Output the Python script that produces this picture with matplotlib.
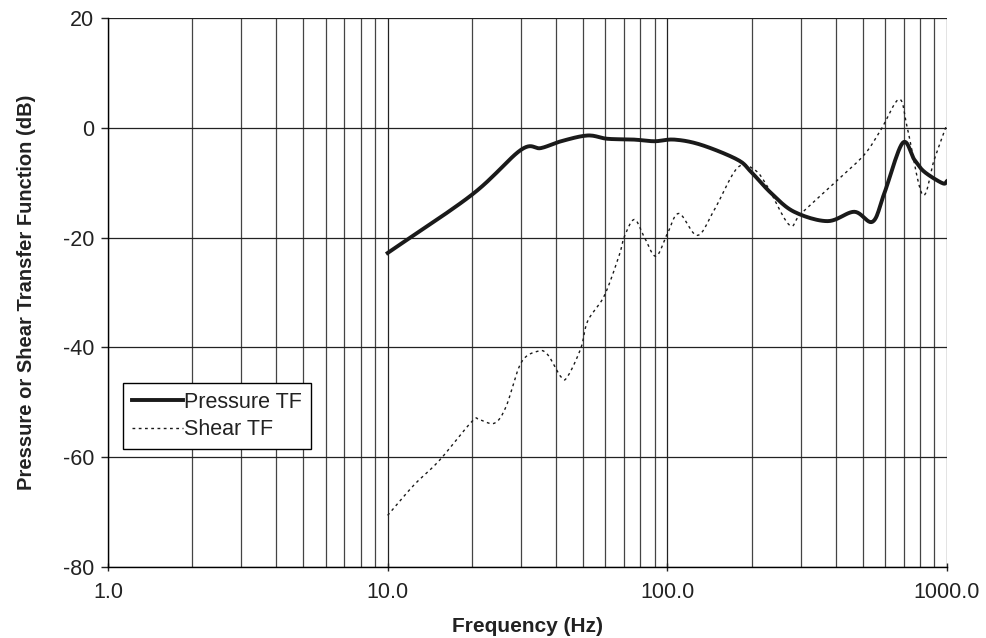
import numpy as np
import matplotlib
matplotlib.use('Agg')
import matplotlib.pyplot as plt
from matplotlib.ticker import FixedLocator, LogLocator, NullFormatter

plt.rcParams['font.family'] = ['Liberation Sans', 'DejaVu Sans']
plt.rcParams['axes.unicode_minus'] = False

# Pressure transfer function (dB) vs frequency (Hz)
p_freq = [10, 20, 30, 35.3, 41.7, 51.9, 61, 76, 90, 106, 132, 178, 199, 235,
          284, 374, 466, 542, 597, 694, 764, 829, 964, 1000]
p_db = [-22.8, -12.2, -4.0, -3.7, -2.45, -1.4, -2.0, -2.15, -2.45, -2.15, -3.1,
        -5.8, -8.0, -11.9, -15.3, -17.0, -15.3, -17.1, -11.9, -2.75, -5.8, -8.0,
        -10.1, -9.7]

# Shear transfer function (dB) vs frequency (Hz)
s_freq = [10, 12.4, 15.3, 20, 21.3, 24.1, 26.5, 30, 34.4, 37.3, 41.7, 44, 49.1,
          51.9, 59.5, 67.3, 70.1, 76.2, 82.7, 91, 100, 110, 128, 147, 178, 205,
          228, 273, 301, 406, 506, 581, 675, 723, 818, 900, 990]
s_db = [-70.6, -65.1, -60.6, -53.5, -53.2, -53.8, -50.8, -42.8, -40.7, -41.3,
        -45.4, -45.3, -40.1, -35.2, -30.6, -23.2, -19.9, -16.7, -19.9, -23.4,
        -19.3, -15.6, -19.6, -15.0, -7.3, -7.65, -10.7, -17.7, -15.6, -9.5, -4.9,
        -0.3, 5.2, -0.3, -12.2, -5.8, 0.1]

x_ticks = [1, 10, 100, 1000]
x_labels = ['1.0', '10.0', '100.0', '1000.0']
y_ticks = [20, 0, -20, -40, -60, -80]


def smooth(xs, ys, n=12):
    # simple Catmull-Rom in log-frequency space
    lx = np.log10(xs)
    ys = np.asarray(ys, dtype=float)
    px = np.concatenate([[2 * lx[0] - lx[1]], lx, [2 * lx[-1] - lx[-2]]])
    py = np.concatenate([[2 * ys[0] - ys[1]], ys, [2 * ys[-1] - ys[-2]]])
    ox, oy = [], []
    for i in range(1, len(px) - 2):
        t = np.linspace(0, 1, n, endpoint=False)
        for arr, out in ((px, ox), (py, oy)):
            p0, p1, p2, p3 = arr[i - 1], arr[i], arr[i + 1], arr[i + 2]
            out.extend(0.5 * ((2 * p1) + (-p0 + p2) * t
                              + (2 * p0 - 5 * p1 + 4 * p2 - p3) * t ** 2
                              + (-p0 + 3 * p1 - 3 * p2 + p3) * t ** 3))
    ox.append(lx[-1])
    oy.append(ys[-1])
    return 10 ** np.array(ox), np.array(oy)


fig = plt.figure(figsize=(9.87, 6.38), dpi=100)
ax = fig.add_axes([0.1094, 0.1113, 0.8501, 0.8605])

ax.set_xscale('log')
ax.set_xlim(1, 1000)
ax.set_ylim(-80, 20)

ax.xaxis.set_major_locator(FixedLocator(x_ticks))
ax.set_xticklabels(x_labels)
ax.xaxis.set_minor_locator(LogLocator(base=10, subs=np.arange(2, 10)))
ax.xaxis.set_minor_formatter(NullFormatter())
ax.set_yticks(y_ticks)

ax.grid(True, which='major', color='#222222', lw=0.9)
ax.grid(True, which='minor', axis='x', color='#444444', lw=0.9)
ax.set_axisbelow(True)

for side in ['top', 'right']:
    ax.spines[side].set_visible(False)
for side in ['left', 'bottom']:
    ax.spines[side].set_color('black')
    ax.spines[side].set_linewidth(1.0)

ax.tick_params(axis='y', which='major', direction='out', length=5, width=1,
               labelsize=15.5, colors='#222222', pad=5)
ax.tick_params(axis='x', which='major', direction='inout', length=6, width=1,
               labelsize=15.5, colors='#222222', pad=8)
ax.tick_params(axis='x', which='minor', length=0)

px, py = smooth(p_freq, p_db)
sx, sy = smooth(s_freq, s_db)
ax.plot(px, py, color='#1a1a1a', lw=2.8, label='Pressure TF')
ax.plot(sx, sy, color='#1a1a1a', lw=1.0, ls=(0, (2, 2.5)), label='Shear TF')

ax.set_xlabel('Frequency (Hz)', fontsize=15, fontweight='bold', labelpad=10,
              color='#222222')
ax.set_ylabel('Pressure or Shear Transfer Function (dB)', fontsize=14.5,
              fontweight='bold', labelpad=19, color='#222222')

leg = ax.legend(loc='upper left', bbox_to_anchor=(0.018, 0.335), fontsize=15.5,
                frameon=True, fancybox=False, framealpha=1, edgecolor='black',
                handlelength=2.4, handletextpad=0.05, borderpad=0.4,
                labelspacing=0.3, borderaxespad=0)
leg.get_frame().set_linewidth(1.0)
for t in leg.get_texts():
    t.set_color('#222222')

fig.savefig('out.png', dpi=100)
